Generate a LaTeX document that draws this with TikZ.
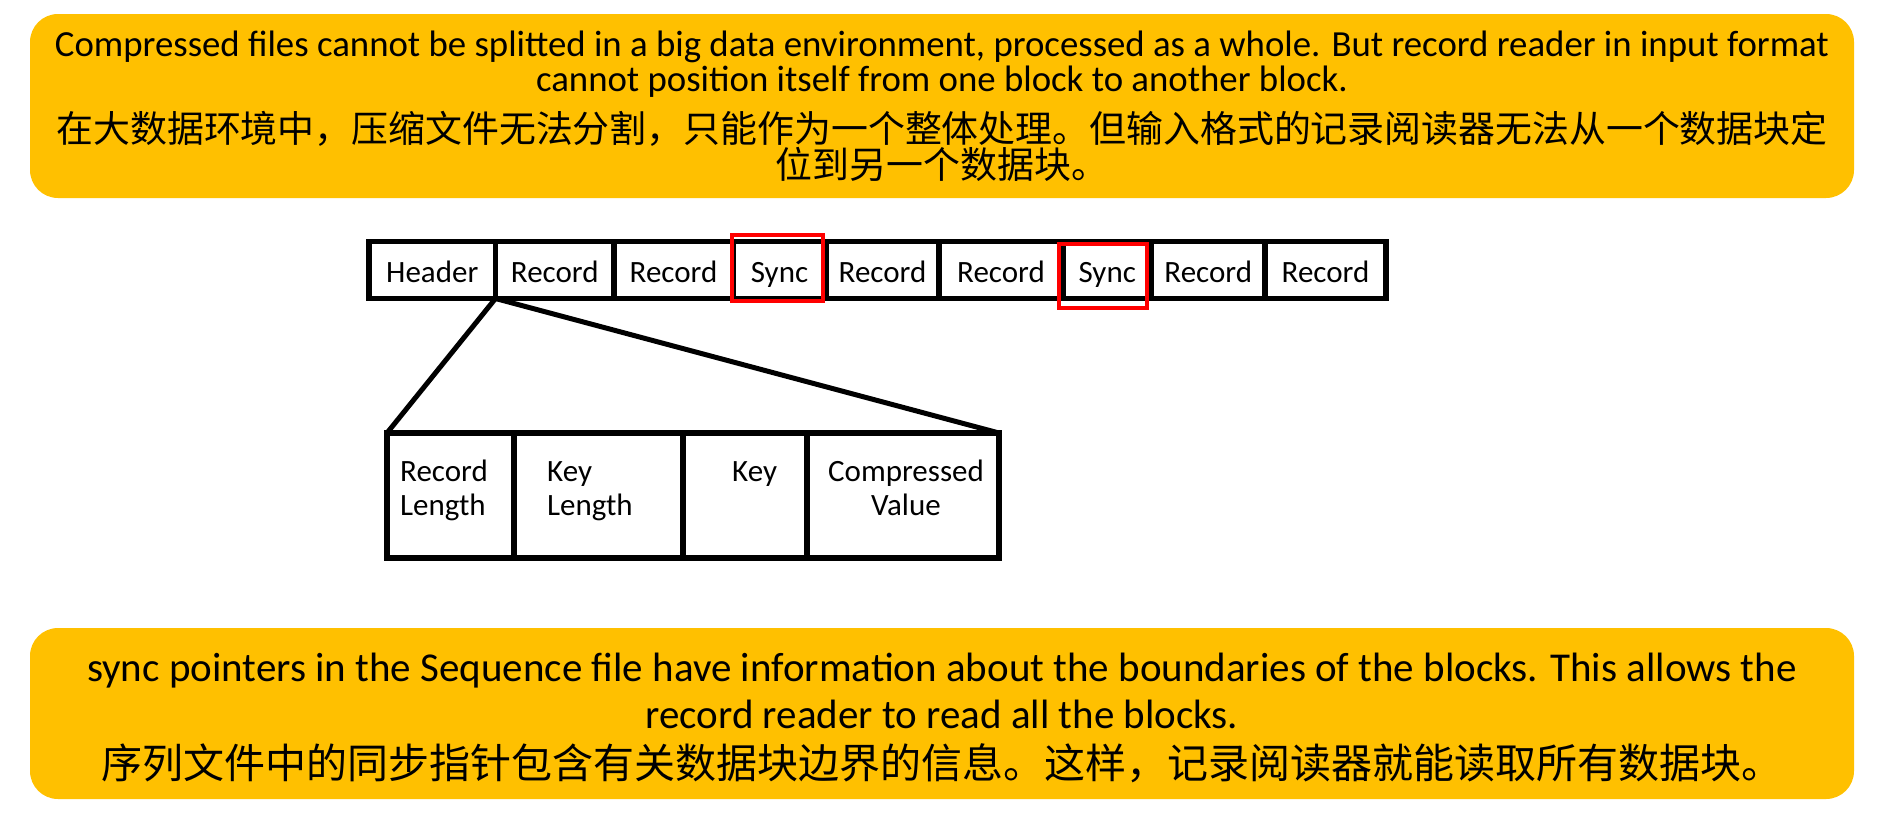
\documentclass[tikz,border=0pt]{standalone}
\usepackage{fontspec}
\setmainfont{Carlito}
\newfontfamily\cjk{Noto Sans CJK SC}
\usetikzlibrary{positioning}

\definecolor{bannergold}{HTML}{FFC000}
\definecolor{syncred}{HTML}{FF0000}

\begin{document}
\begin{tikzpicture}[
    x=1pt, y=-1pt,
    banner/.style={fill=bannergold, rounded corners=28pt, inner sep=0pt},
    cell/.style={draw, line width=5.5pt, outer sep=0pt, inner sep=0pt,
      minimum height=57pt, text height=31pt, text depth=7pt,
      font=\fontsize{31}{34}\selectfont},
    field/.style={draw, line width=6pt, outer sep=0pt, inner sep=0pt,
      minimum height=125pt},
    fieldtext/.style={inner sep=0pt, font=\fontsize{31}{34}\selectfont},
    syncmark/.style={draw=syncred, line width=4pt},
    fan/.style={line width=5pt, line cap=round}
  ]
  \useasboundingbox (0,0) rectangle (1891,839);

  % top banner
  \node[banner, minimum width=1824pt, minimum height=184pt] (topbox) at (942,106) {};
  \node[align=center, font=\fontsize{36.8}{35}\selectfont] (topen) at (942,64)
    {Compressed files cannot be splitted in a big data environment, processed as a whole. But record reader in input format\\
     cannot position itself from one block to another block.};
  \node[align=center, font=\cjk\fontsize{36.9}{36}\selectfont] (topzh) at (942,146)
    {在大数据环境中，压缩文件无法分割，只能作为一个整体处理。但输入格式的记录阅读器无法从一个数据块定\\
     位到另一个数据块。};

  % sequence file
  \node[cell, minimum width=126.5pt] (hdr) at (432.25,270) {Header};
  \node[cell, minimum width=118.5pt, right=0pt of hdr] (rec1) {Record};
  \node[cell, minimum width=119pt, right=0pt of rec1] (rec2) {Record};
  \node[cell, minimum width=93pt, right=0pt of rec2] (sync1) {Sync};
  \node[cell, minimum width=113pt, right=0pt of sync1] (rec3) {Record};
  \node[cell, minimum width=124pt, right=0pt of rec3] (rec4) {Record};
  \node[cell, minimum width=88.5pt, right=0pt of rec4] (sync2) {Sync};
  \node[cell, minimum width=113.5pt, right=0pt of sync2] (rec5) {Record};
  \node[cell, minimum width=121pt, right=0pt of rec5] (rec6) {Record};

  \draw[syncmark] (732,235) rectangle (823,301);
  \draw[syncmark] (1059,244) rectangle (1147,308);

  % record layout
  \node[field, minimum width=127pt] (rl) at (450.5,495.5) {};
  \node[field, minimum width=169pt, right=0pt of rl] (kl) {};
  \node[field, minimum width=124pt, right=0pt of kl] (ky) {};
  \node[field, minimum width=192pt, right=0pt of ky] (cv) {};

  \node[fieldtext, anchor=north west, align=left] (rltxt) at ([shift={(13,27)}]rl.north west) {Record\\Length};
  \node[fieldtext, anchor=north west, align=left] (kltxt) at ([shift={(33,28)}]kl.north west) {Key\\Length};
  \node[fieldtext, anchor=north west] (kytxt) at ([shift={(49,28)}]ky.north west) {Key};
  \node[fieldtext, anchor=north, align=center] (cvtxt) at ([shift={(3,27)}]cv.north) {Compressed\\Value};

  \draw[fan] (hdr.south east) -- (rl.north west);
  \draw[fan] (hdr.south east) -- (cv.north east);

  % bottom banner
  \node[banner, minimum width=1824pt, minimum height=171pt] (botbox) at (942,713.5) {};
  \node[align=center, font=\fontsize{41}{47}\selectfont] (boten) at (942,691)
    {sync pointers in the Sequence file have information about the boundaries of the blocks. This allows the\\
     record reader to read all the blocks.};
  \node[font=\cjk\fontsize{41}{48}\selectfont] (botzh) at (942,763)
    {序列文件中的同步指针包含有关数据块边界的信息。这样，记录阅读器就能读取所有数据块。};
\end{tikzpicture}
\end{document}
